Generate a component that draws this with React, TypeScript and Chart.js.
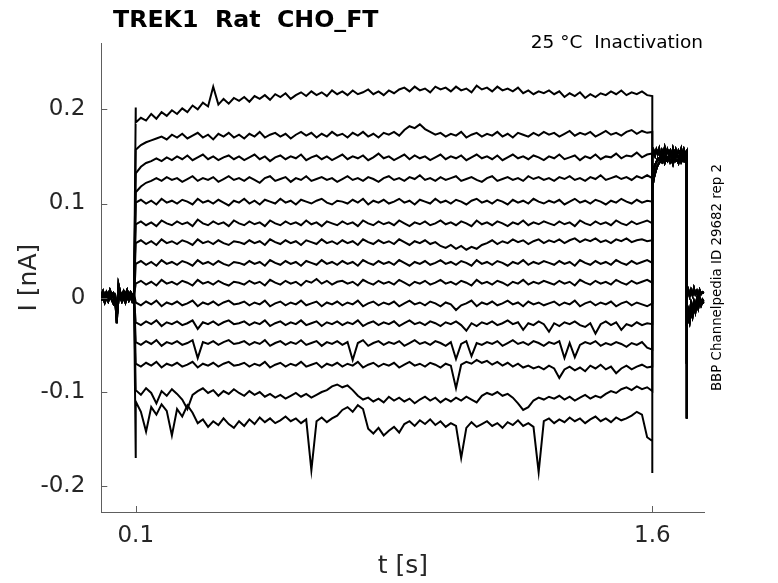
import { useEffect, useRef } from "react";
import { Chart, registerables } from "chart.js";

Chart.register(...registerables);

// ---------- axis ticks ----------
const X_TICKS = [0.1, 1.6];
const X_TICK_LABELS = ["0.1", "1.6"];
const Y_TICKS = [-0.2, -0.1, 0, 0.1, 0.2];
const Y_TICK_LABELS = ["-0.2", "-0.1", "0", "0.1", "0.2"];

// ---------- protocol segments (s) ----------
const HOLD_SPAN = [0, 0.095];
const PULSE_SPAN = [0.1, 1.6];
const TAIL_SPAN = [1.6, 1.7];
const POST_SPAN = [1.7, 1.75];

// ---------- currents (pA), evenly sampled within each segment ----------
const HOLD_A = [3, 7, 1, 6, 2, 8, 3, 5, 1, -27, 14, 6, 2, 7, 3, 8, 2, 6, 3, 5];
const HOLD_B = [-3, 1, -5, 0, -4, 2, -2, -6, 0, -20, -2, 1, -4, 0, -5, 2, -3, 1, -4, -1];
const HOLD_C = [0, 4, -2, 3, -1, 5, 0, 2, -3, -10, 10, 3, -1, 4, 0, 5, -2, 3, 0, 2];

// capacitive spikes at pulse onset / offset, per sweep
const ONSET = [202, 157, 132, 112, 101, 78, 58, 36, 15, -5, -26, -47, -70, -98, -170];
const OFFSET = [214, 176, 153, 127, 102, 79, 61, 37, 16, -6, -28, -55, -73, -99, -186];

const SWEEP_1 = [
  186, 191, 188, 195, 190, 197, 193, 199, 195, 201, 197, 204, 200, 207, 203, 224, 205, 211, 206, 212,
  209, 213, 208, 214, 211, 215, 210, 216, 213, 217, 211, 215, 218, 214, 219, 215, 218, 214, 220, 216,
  219, 215, 220, 216, 218, 221, 216, 219, 215, 220, 217, 221, 223, 219, 224, 220, 222, 218, 224, 221,
  223, 219, 224, 220, 222, 218, 225, 221, 223, 219, 224, 220, 222, 219, 223, 217, 220, 216, 219, 217,
  220, 216, 219, 213, 217, 214, 218, 212, 216, 213, 217, 215, 219, 216, 220, 215, 218, 216, 219, 215, 214,
];
const SWEEP_2 = [
  157, 162, 165, 167, 169, 171, 168, 173, 170, 174, 169, 172, 175, 170, 173, 168, 174, 171, 175, 170,
  173, 169, 174, 171, 176, 170, 173, 175, 171, 174, 169, 173, 176, 172, 175, 170, 174, 171, 176, 172,
  174, 170, 175, 172, 176, 171, 174, 170, 175, 173, 176, 172, 178, 182, 180, 184, 179, 176, 173, 175,
  171, 174, 172, 176, 170, 173, 175, 171, 174, 172, 176, 171, 174, 170, 175, 173, 171, 175, 172, 176,
  173, 175, 171, 174, 177, 172, 175, 173, 176, 171, 174, 177, 173, 175, 172, 176, 178, 174, 177, 175, 176,
];
const SWEEP_3 = [
  132, 139, 143, 145, 148, 145, 149, 146, 150, 147, 151, 146, 149, 152, 147, 150, 146, 149, 151, 147,
  150, 146, 149, 152, 147, 150, 145, 149, 151, 147, 150, 148, 152, 146, 149, 151, 147, 150, 146, 149,
  152, 147, 150, 148, 151, 146, 149, 153, 148, 150, 146, 149, 152, 147, 151, 148, 150, 146, 149, 152,
  147, 150, 148, 151, 146, 149, 152, 148, 150, 147, 151, 146, 149, 152, 148, 150, 147, 151, 149, 146,
  150, 148, 152, 147, 149, 151, 146, 150, 148, 152, 147, 150, 149, 153, 148, 151, 150, 154, 149, 152, 153,
];
const SWEEP_4 = [
  112, 118, 122, 124, 127, 124, 128, 125, 127, 123, 126, 129, 124, 127, 125, 128, 123, 126, 129, 125,
  127, 124, 128, 125, 122, 127, 129, 124, 126, 128, 123, 127, 125, 129, 124, 126, 128, 125, 127, 123,
  126, 129, 125, 127, 124, 128, 126, 123, 127, 129, 125, 127, 124, 128, 126, 130, 125, 127, 124, 128,
  125, 127, 129, 124, 126, 128, 125, 123, 127, 129, 124, 126, 128, 125, 127, 124, 129, 126, 128, 125,
  127, 124, 128, 126, 129, 125, 127, 124, 128, 126, 130, 125, 127, 129, 126, 128, 125, 129, 127, 130, 127,
];
const SWEEP_5 = [
  101, 104, 100, 103, 99, 105, 101, 103, 100, 104, 102, 99, 105, 101, 103, 100, 104, 101, 98, 103,
  101, 105, 100, 103, 99, 104, 102, 100, 105, 101, 103, 99, 104, 102, 100, 103, 105, 101, 99, 103,
  102, 100, 104, 101, 105, 99, 103, 101, 104, 100, 102, 105, 101, 103, 99, 104, 102, 100, 105, 101,
  103, 100, 104, 102, 99, 103, 105, 101, 103, 100, 104, 102, 99, 104, 101, 103, 100, 105, 102, 100,
  103, 101, 104, 99, 102, 105, 101, 103, 100, 104, 102, 99, 103, 101, 105, 102, 100, 104, 101, 103, 102,
];
const SWEEP_6 = [
  78, 81, 77, 80, 76, 82, 79, 77, 81, 78, 80, 76, 83, 79, 77, 81, 78, 80, 76, 82,
  79, 77, 81, 78, 80, 76, 82, 79, 77, 81, 78, 80, 77, 82, 78, 80, 76, 81, 79, 77,
  81, 78, 80, 76, 82, 79, 77, 81, 78, 80, 77, 82, 79, 76, 80, 78, 81, 77, 79, 82,
  78, 80, 77, 81, 79, 76, 82, 78, 80, 77, 81, 79, 76, 80, 78, 82, 77, 80, 78, 81,
  79, 77, 81, 78, 80, 76, 82, 79, 77, 81, 78, 80, 77, 82, 79, 77, 81, 78, 80, 82, 79,
];
const SWEEP_7 = [
  58, 61, 57, 60, 56, 62, 58, 60, 57, 61, 59, 56, 62, 58, 60, 57, 61, 58, 56, 60,
  59, 57, 61, 58, 60, 56, 62, 59, 57, 61, 58, 60, 56, 61, 59, 57, 62, 58, 60, 57,
  61, 58, 60, 56, 62, 59, 57, 61, 58, 60, 57, 62, 59, 56, 60, 58, 61, 57, 59, 55,
  53, 56, 52, 55, 51, 54, 52, 56, 58, 61, 57, 60, 58, 62, 59, 61, 57, 60, 62, 58,
  61, 59, 62, 58, 61, 63, 59, 62, 60, 63, 59, 61, 58, 62, 60, 63, 59, 61, 62, 60, 61,
];
const SWEEP_8 = [
  36, 39, 35, 38, 34, 40, 36, 38, 35, 39, 37, 34, 40, 36, 38, 35, 39, 36, 34, 38,
  37, 35, 39, 36, 38, 34, 40, 37, 35, 39, 36, 38, 34, 39, 37, 35, 40, 36, 38, 35,
  39, 36, 38, 34, 40, 37, 35, 39, 36, 38, 35, 40, 37, 34, 38, 36, 39, 35, 37, 40,
  36, 38, 35, 39, 37, 34, 40, 36, 38, 35, 39, 37, 34, 38, 36, 40, 35, 38, 36, 39,
  37, 35, 39, 36, 38, 34, 40, 37, 35, 39, 36, 38, 35, 40, 37, 35, 39, 36, 38, 40, 37,
];
const SWEEP_9 = [
  15, 18, 14, 17, 13, 19, 15, 17, 14, 18, 16, 13, 19, 15, 17, 14, 18, 15, 13, 17,
  16, 14, 18, 15, 17, 13, 19, 16, 14, 18, 15, 17, 13, 18, 16, 20, 15, 18, 14, 17,
  18, 15, 17, 13, 19, 16, 14, 18, 15, 17, 14, 19, 16, 13, 17, 15, 18, 14, 16, 19,
  15, 17, 14, 18, 16, 13, 19, 15, 17, 14, 18, 16, 13, 17, 15, 19, 14, 17, 15, 18,
  16, 14, 18, 15, 17, 13, 19, 16, 14, 18, 15, 17, 14, 19, 16, 14, 18, 15, 17, 19, 16,
];
const SWEEP_10 = [
  -5, -8, -4, -7, -3, -9, -5, -7, -4, -8, -6, -3, -9, -5, -7, -4, -8, -5, -3, -7,
  -6, -4, -8, -5, -7, -3, -9, -6, -4, -8, -5, -7, -3, -8, -6, -4, -9, -5, -7, -4,
  -8, -5, -7, -3, -9, -6, -4, -8, -5, -7, -4, -9, -6, -3, -7, -5, -8, -4, -6, -9,
  -5, -7, -13, -8, -6, -3, -9, -5, -7, -4, -8, -6, -3, -7, -5, -9, -4, -7, -5, -8,
  -6, -4, -8, -5, -7, -3, -9, -6, -4, -8, -5, -7, -4, -9, -6, -4, -8, -5, -7, -9, -6,
];
const SWEEP_11 = [
  -26, -29, -25, -28, -24, -30, -26, -28, -25, -29, -27, -24, -33, -26, -28, -25, -29, -26, -24, -28,
  -27, -25, -29, -26, -28, -24, -30, -27, -25, -29, -26, -28, -24, -29, -27, -25, -30, -26, -28, -25,
  -29, -26, -28, -24, -30, -27, -25, -29, -26, -28, -25, -30, -27, -24, -28, -26, -29, -25, -27, -30,
  -26, -28, -25, -29, -35, -27, -30, -26, -28, -25, -29, -27, -24, -28, -26, -34, -27, -29, -25, -28,
  -36, -27, -30, -26, -28, -25, -29, -31, -27, -38, -28, -25, -29, -26, -34, -28, -30, -26, -29, -27, -28,
];
const SWEEP_12 = [
  -47, -50, -46, -49, -45, -51, -47, -49, -46, -50, -48, -45, -64, -47, -49, -46, -50, -47, -45, -49,
  -48, -46, -50, -47, -49, -45, -51, -48, -46, -50, -47, -49, -45, -50, -48, -46, -51, -47, -49, -46,
  -50, -47, -66, -48, -45, -51, -48, -46, -50, -47, -49, -46, -51, -48, -45, -49, -47, -50, -46, -48,
  -51, -47, -65, -49, -46, -62, -48, -50, -47, -49, -46, -51, -48, -45, -49, -47, -50, -46, -48, -51,
  -47, -49, -46, -64, -48, -63, -50, -47, -49, -46, -51, -48, -50, -47, -49, -52, -48, -50, -47, -53, -55,
];
const SWEEP_13 = [
  -70, -73, -69, -72, -68, -74, -70, -72, -69, -73, -71, -68, -74, -70, -72, -69, -73, -70, -68, -72,
  -71, -69, -73, -70, -72, -68, -74, -71, -69, -73, -70, -72, -68, -73, -71, -69, -74, -70, -72, -69,
  -73, -70, -72, -68, -74, -71, -69, -73, -70, -72, -69, -74, -71, -68, -72, -70, -73, -69, -71, -74,
  -70, -72, -96, -71, -68, -70, -66, -69, -67, -71, -68, -72, -69, -73, -70, -74, -72, -75, -73, -76,
  -72, -75, -85, -76, -73, -77, -74, -78, -72, -75, -71, -76, -73, -80, -75, -72, -76, -73, -71, -74, -73,
];
const SWEEP_14 = [
  -98, -103, -96, -101, -112, -99, -104, -97, -102, -108, -118, -103, -99, -96, -101, -98, -104, -99, -102, -97,
  -101, -104, -99, -103, -100, -105, -102, -106, -103, -107, -104, -101, -105, -102, -106, -103, -100, -98, -94, -92,
  -95, -93, -98, -104, -108, -106, -110, -107, -111, -105, -109, -106, -110, -107, -112, -108, -105, -109, -106, -111,
  -107, -110, -106, -109, -105, -108, -111, -104, -101, -103, -100, -104, -102, -106, -112, -119, -116, -109, -106, -108,
  -105, -107, -104, -108, -105, -109, -106, -103, -107, -104, -106, -102, -99, -101, -97, -95, -98, -94, -97, -95, -99,
];
const SWEEP_15 = [
  -110, -121, -142, -116, -124, -113, -120, -146, -118, -126, -114, -122, -133, -129, -137, -131, -135, -128, -134, -138,
  -131, -136, -129, -134, -127, -132, -128, -133, -130, -126, -131, -128, -133, -129, -183, -131, -127, -132, -128, -125,
  -119, -116, -121, -114, -118, -139, -144, -138, -146, -141, -137, -143, -134, -131, -136, -130, -134, -129, -135, -131,
  -137, -133, -136, -170, -138, -132, -137, -134, -131, -136, -133, -138, -132, -135, -130, -136, -133, -137, -185, -131,
  -128, -133, -129, -132, -127, -131, -128, -133, -129, -126, -131, -128, -132, -127, -130, -128, -125, -121, -124, -148, -152,
];

// tail step (all sweeps converge there)
const TAIL_A = [150, 156, 151, 157, 153, 158, 150, 156, 152, 159, 151, 157, 153, 156, 150, 158, 152, 157, 151, 156, 153, 158, 150, 157, 152, 155];
const TAIL_B = [116, 126, 132, 137, 141, 143, 146, 144, 148, 143, 147, 145, 149, 144, 147, 142, 148, 145, 146, 143, 149, 144, 147, 145, 148, 146];
const TAIL_C = [128, 136, 141, 144, 148, 146, 150, 147, 152, 148, 151, 146, 150, 153, 148, 151, 147, 152, 149, 150, 146, 151, 148, 152, 149, 150];

// return to holding potential
const DROP = [-30, -128, -70];
const POST_A = [6, 9, 2, 8, 3, 10, 4, 7, 1, 8, 4, 6, 5];
const POST_B = [-22, -12, -17, -6, -13, -4, -10, -2, -8, 0, -6, -2, -4];
const POST_C = [-30, -20, -26, -14, -20, -9, -15, -5, -11, -3, -8, -4, -6];

const SWEEPS = [
  SWEEP_1, SWEEP_2, SWEEP_3, SWEEP_4, SWEEP_5, SWEEP_6, SWEEP_7, SWEEP_8,
  SWEEP_9, SWEEP_10, SWEEP_11, SWEEP_12, SWEEP_13, SWEEP_14, SWEEP_15,
];
const HOLDS = [HOLD_A, HOLD_B, HOLD_C];
const TAILS = [TAIL_A, TAIL_B, TAIL_C];
const POSTS = [POST_A, POST_B, POST_C];

const TITLE = "TREK1  Rat  CHO_FT";
const SUBTITLE = "25 °C  Inactivation";
const SIDE_NOTE = "BBP Channelpedia ID 29682 rep 2";
const X_TITLE = "t [s]";
const Y_TITLE = "I [nA]";

const FONT = "'DejaVu Sans', 'Liberation Sans', sans-serif";
const AXIS_COLOR = "#5e5e5e";
const LABEL_COLOR = "#262626";

// sample time of the j-th of n evenly spaced samples in a segment
const sampleTime = (span: number[], j: number, n: number) =>
  span[0] + ((span[1] - span[0]) * j) / (n - 1);

function buildSweep(k: number) {
  const v = k % 3;
  const nA = (pA: number) => pA / 1000;
  const pts: { x: number; y: number }[] = [];
  const seg = (span: number[], vals: number[]) =>
    vals.forEach((val, j) => pts.push({ x: sampleTime(span, j, vals.length), y: nA(val) }));
  seg(HOLD_SPAN, HOLDS[v]);
  pts.push({ x: PULSE_SPAN[0], y: nA(ONSET[k]) });
  seg(PULSE_SPAN, SWEEPS[k]);
  pts.push({ x: PULSE_SPAN[1], y: nA(OFFSET[k]) });
  seg(TAIL_SPAN, TAILS[v]);
  pts.push({ x: TAIL_SPAN[1], y: nA(DROP[v]) });
  seg(POST_SPAN, POSTS[v]);
  return pts;
}

const overlayPlugin = {
  id: "overlay",
  afterDraw(chart: any) {
    const { ctx, chartArea: a, scales } = chart;
    const xs = scales.x;
    const ys = scales.y;
    ctx.save();
    // inward tick marks
    ctx.strokeStyle = AXIS_COLOR;
    ctx.lineWidth = 1;
    ctx.beginPath();
    Y_TICKS.forEach((v) => {
      const py = Math.round(ys.getPixelForValue(v)) + 0.5;
      ctx.moveTo(a.left, py);
      ctx.lineTo(a.left + 6, py);
    });
    X_TICKS.forEach((v) => {
      const px = Math.round(xs.getPixelForValue(v)) + 0.5;
      ctx.moveTo(px, a.bottom);
      ctx.lineTo(px, a.bottom - 6);
    });
    ctx.stroke();

    // title
    ctx.fillStyle = "#000";
    ctx.textBaseline = "alphabetic";
    ctx.textAlign = "left";
    ctx.font = `bold 23.7px ${FONT}`;
    ctx.fillText(TITLE, 113, 27);

    // subtitle
    ctx.font = `18.5px ${FONT}`;
    ctx.textAlign = "right";
    ctx.fillText(SUBTITLE, 703, 48);

    // side note (rotated)
    ctx.save();
    ctx.translate(718, 277.5);
    ctx.rotate(-Math.PI / 2);
    ctx.font = `13.4px ${FONT}`;
    ctx.textAlign = "center";
    ctx.textBaseline = "middle";
    ctx.fillText(SIDE_NOTE, 0, 0);
    ctx.restore();

    // axis titles
    ctx.fillStyle = LABEL_COLOR;
    ctx.font = `25px ${FONT}`;
    ctx.textAlign = "center";
    ctx.textBaseline = "middle";
    ctx.fillText(X_TITLE, (a.left + a.right) / 2, 566);
    ctx.save();
    ctx.translate(29, (a.top + a.bottom) / 2);
    ctx.rotate(-Math.PI / 2);
    ctx.fillText(Y_TITLE, 0, 0);
    ctx.restore();

    ctx.restore();
  },
};

export default function App() {
  const ref = useRef<HTMLCanvasElement | null>(null);

  useEffect(() => {
    if (!ref.current) return;
    Chart.defaults.font.family = FONT;
    const datasets = SWEEPS.map((_, k) => ({
      label: `sweep ${k + 1}`,
      data: buildSweep(k),
      borderColor: "#000000",
      borderWidth: 2,
      pointRadius: 0,
      tension: 0,
      fill: false,
    }));
    const chart = new Chart(ref.current, {
      type: "line",
      data: { datasets },
      options: {
        animation: false,
        responsive: false,
        devicePixelRatio: 1,
        parsing: false as any,
        layout: { padding: { left: 0, top: 43.3, right: 73.7, bottom: 0 } },
        plugins: {
          legend: { display: false },
          tooltip: { enabled: false },
          title: { display: false },
        },
        scales: {
          x: {
            type: "linear",
            min: 0,
            max: 1.751,
            afterFit: (s: any) => {
              s.height = 71;
            },
            afterBuildTicks: (s: any) => {
              s.ticks = X_TICKS.map((value) => ({ value }));
            },
            ticks: {
              autoSkip: false,
              maxRotation: 0,
              padding: 10,
              color: LABEL_COLOR,
              font: { size: 23, family: FONT },
              callback: (_v: any, i: number) => X_TICK_LABELS[i],
            },
            grid: { display: false, drawTicks: false },
            border: { display: true, color: AXIS_COLOR, width: 1 },
          },
          y: {
            type: "linear",
            min: -0.2273,
            max: 0.27,
            afterFit: (s: any) => {
              s.width = 101.3;
            },
            afterBuildTicks: (s: any) => {
              s.ticks = Y_TICKS.map((value) => ({ value }));
            },
            ticks: {
              autoSkip: false,
              padding: 16,
              color: LABEL_COLOR,
              font: { size: 23, family: FONT },
              callback: (_v: any, i: number) => Y_TICK_LABELS[i],
            },
            grid: { display: false, drawTicks: false },
            border: { display: true, color: AXIS_COLOR, width: 1 },
          },
        },
      },
      plugins: [overlayPlugin],
    });
    return () => chart.destroy();
  }, []);

  return (
    <div style={{ position: "absolute", left: 0, top: 0, width: 778, height: 583, background: "#fff" }}>
      <canvas ref={ref} width={778} height={583} style={{ width: 778, height: 583, display: "block" }} />
    </div>
  );
}
